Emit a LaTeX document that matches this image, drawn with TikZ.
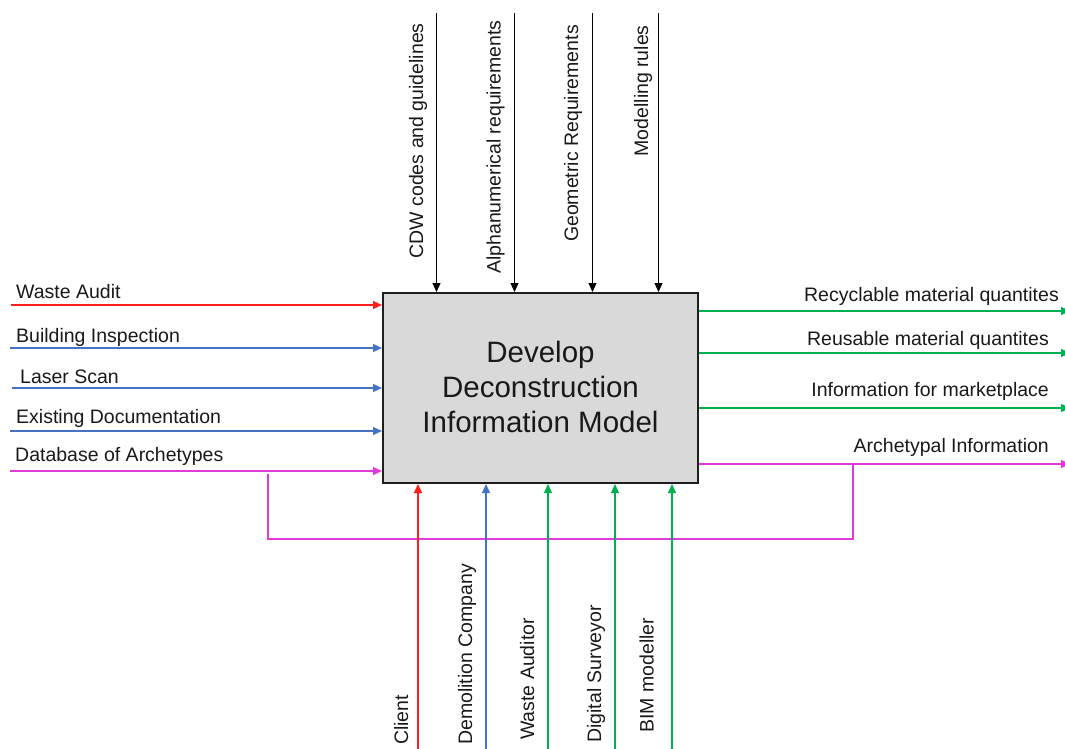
\documentclass[tikz,border=0pt]{standalone}
\usepackage{fontspec}
\setmainfont{Liberation Sans}
\usetikzlibrary{arrows.meta}

\definecolor{inred}{RGB}{255,30,30}
\definecolor{inblue}{RGB}{68,114,196}
\definecolor{outgreen}{RGB}{0,176,80}
\definecolor{loopmag}{RGB}{226,58,216}
\definecolor{boxfill}{RGB}{217,217,217}
\definecolor{boxline}{RGB}{30,30,30}

\begin{document}
\begin{tikzpicture}[x=1pt,y=-1pt,
  flow/.style={line width=1.3pt,-{Triangle[length=9pt,width=8pt]}},
  ctrl/.style={flow,black,line width=1pt},
  lbl/.style={font=\fontsize{19.5}{23}\selectfont,inner sep=0pt,text=black!90},
  vlbl/.style={lbl,rotate=90},
  activity/.style={draw=boxline,fill=boxfill,line width=2pt,minimum width=315pt,
    minimum height=190pt,inner sep=0pt},
  title/.style={font=\fontsize{29.5}{35}\selectfont,align=center,text=black!90}]

\useasboundingbox (0,0) rectangle (1065,749);

% activity box
\node[activity] (act) at (540.5,388) {};
\node[title] (ttl) at (540.5,387) {Develop\\Deconstruction\\Information Model};

% inputs (left)
\coordinate (iA) at (11,305);
\coordinate (iB) at (10,348);
\coordinate (iC) at (12,388);
\coordinate (iD) at (10,431);
\coordinate (iE) at (10,471);
\draw[flow,inred]   (iA) -- (iA -| act.west);
\draw[flow,inblue]  (iB) -- (iB -| act.west);
\draw[flow,inblue]  (iC) -- (iC -| act.west);
\draw[flow,inblue]  (iD) -- (iD -| act.west);
\draw[flow,loopmag] (iE) -- (iE -| act.west);
\node[lbl,anchor=base west] (lA) at (16,298) {Waste Audit};
\node[lbl,anchor=base west] (lB) at (16,342) {Building Inspection};
\node[lbl,anchor=base west] (lC) at (20,383) {Laser Scan};
\node[lbl,anchor=base west] (lD) at (16,423) {Existing Documentation};
\node[lbl,anchor=base west] (lE) at (15,461) {Database of Archetypes};

% outputs (right)
\coordinate (oA) at (1070,311);
\coordinate (oB) at (1070,353);
\coordinate (oC) at (1070,408);
\coordinate (oD) at (1070,464);
\draw[flow,outgreen] (oA -| act.east) -- (oA);
\draw[flow,outgreen] (oB -| act.east) -- (oB);
\draw[flow,outgreen] (oC -| act.east) -- (oC);
\draw[flow,loopmag]  (oD -| act.east) -- (oD);
\node[lbl,anchor=base east] (rA) at (1059,301) {Recyclable material quantites};
\node[lbl,anchor=base east] (rB) at (1049,345) {Reusable material quantites};
\node[lbl,anchor=base east] (rC) at (1049,396) {Information for marketplace};
\node[lbl,anchor=base east] (rD) at (1049,452) {Archetypal Information};

% feedback of archetypal information
\coordinate (fbTop) at (853,464);
\coordinate (fbBot) at (853,539);
\coordinate (fbEnd) at (268,474);
\draw[loopmag,line width=1.3pt] (fbTop) -- (fbBot) -| (fbEnd);

% controls (top)
\coordinate (cA) at (436.5,13);
\coordinate (cB) at (514.5,13);
\coordinate (cC) at (592.5,13);
\coordinate (cD) at (658.5,13);
\draw[ctrl] (cA) -- (cA |- act.north);
\draw[ctrl] (cB) -- (cB |- act.north);
\draw[ctrl] (cC) -- (cC |- act.north);
\draw[ctrl] (cD) -- (cD |- act.north);
\node[vlbl,anchor=base east] (tA) at (423,23) {CDW codes and guidelines};
\node[vlbl,anchor=base east] (tB) at (500.5,20) {Alphanumerical requirements};
\node[vlbl,anchor=base east] (tC) at (578,25) {Geometric Requirements};
\node[vlbl,anchor=base east] (tD) at (648,25) {Modelling rules};

% mechanisms (bottom)
\coordinate (mA) at (418,749);
\coordinate (mB) at (486,749);
\coordinate (mC) at (548,749);
\coordinate (mD) at (615,749);
\coordinate (mE) at (672,749);
\draw[flow,inred]    (mA) -- (mA |- act.south);
\draw[flow,inblue]   (mB) -- (mB |- act.south);
\draw[flow,outgreen] (mC) -- (mC |- act.south);
\draw[flow,outgreen] (mD) -- (mD |- act.south);
\draw[flow,outgreen] (mE) -- (mE |- act.south);
\node[vlbl,anchor=base west] (bA) at (408,745) {Client};
\node[vlbl,anchor=base west] (bB) at (472,745) {Demolition Company};
\node[vlbl,anchor=base west] (bC) at (534,740) {Waste Auditor};
\node[vlbl,anchor=base west] (bD) at (601,743) {Digital Surveyor};
\node[vlbl,anchor=base west] (bE) at (653.5,733) {BIM modeller};

\end{tikzpicture}
\end{document}
